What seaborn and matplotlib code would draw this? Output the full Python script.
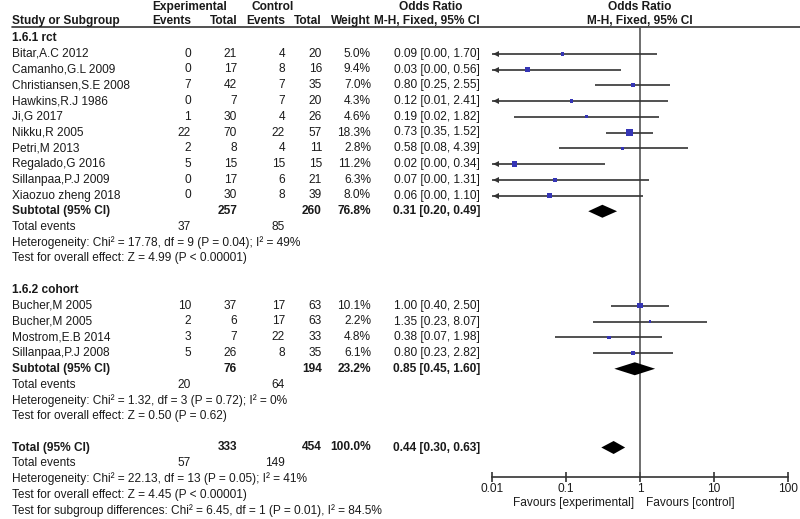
import numpy as np
import pandas as pd
import seaborn as sns
import matplotlib
matplotlib.use("Agg")
import matplotlib.pyplot as plt

# ================================
# Data
# ================================

studies_rct = ["Bitar,A.C 2012", "Camanho,G.L 2009", "Christiansen,S.E 2008",
               "Hawkins,R.J 1986", "Ji,G 2017", "Nikku,R 2005", "Petri,M 2013",
               "Regalado,G 2016", "Sillanpaa,P.J 2009", "Xiaozuo zheng 2018"]
exp_events_rct = [0, 0, 7, 0, 1, 22, 2, 5, 0, 0]
exp_total_rct = [21, 17, 42, 7, 30, 70, 8, 15, 17, 30]
ctl_events_rct = [4, 8, 7, 7, 4, 22, 4, 15, 6, 8]
ctl_total_rct = [20, 16, 35, 20, 26, 57, 11, 15, 21, 39]
weight_rct = [5.0, 9.4, 7.0, 4.3, 4.6, 18.3, 2.8, 11.2, 6.3, 8.0]
or_rct = [0.09, 0.03, 0.80, 0.12, 0.19, 0.73, 0.58, 0.02, 0.07, 0.06]
lo_rct = [0.00, 0.00, 0.25, 0.01, 0.02, 0.35, 0.08, 0.00, 0.00, 0.00]
hi_rct = [1.70, 0.56, 2.55, 2.41, 1.82, 1.52, 4.39, 0.34, 1.31, 1.10]

studies_coh = ["Bucher,M 2005", "Bucher,M 2005", "Mostrom,E.B 2014", "Sillanpaa,P.J 2008"]
exp_events_coh = [10, 2, 3, 5]
exp_total_coh = [37, 6, 7, 26]
ctl_events_coh = [17, 17, 22, 8]
ctl_total_coh = [63, 63, 33, 35]
weight_coh = [10.1, 2.2, 4.8, 6.1]
or_coh = [1.00, 1.35, 0.38, 0.80]
lo_coh = [0.40, 0.23, 0.07, 0.23]
hi_coh = [2.50, 8.07, 1.98, 2.82]

# pooled: exp total, ctl total, weight, OR, lo, hi, exp events, ctl events
sub_rct = [257, 260, 76.8, 0.31, 0.20, 0.49, 37, 85]
sub_coh = [76, 194, 23.2, 0.85, 0.45, 1.60, 20, 64]
overall = [333, 454, 100.0, 0.44, 0.30, 0.63, 57, 149]

het_rct = "Heterogeneity: Chi² = 17.78, df = 9 (P = 0.04); I² = 49%"
z_rct = "Test for overall effect: Z = 4.99 (P < 0.00001)"
het_coh = "Heterogeneity: Chi² = 1.32, df = 3 (P = 0.72); I² = 0%"
z_coh = "Test for overall effect: Z = 0.50 (P = 0.62)"
het_all = "Heterogeneity: Chi² = 22.13, df = 13 (P = 0.05); I² = 41%"
z_all = "Test for overall effect: Z = 4.45 (P < 0.00001)"
sub_diff = "Test for subgroup differences: Chi² = 6.45, df = 1 (P = 0.01), I² = 84.5%"

ticks = [0.01, 0.1, 1, 10, 100]
tick_labels = ["0.01", "0.1", "1", "10", "100"]

# ================================
# Layout
# ================================

sns.set_theme(style="white")
plt.rcParams["font.family"] = ["Liberation Sans", "DejaVu Sans"]

FS = 8.6
TXT = "#1a1a1a"
LINE = "#333333"
BLUE = "#3535b5"


def row_y(k):
    return 38 + 15.75 * k


X_NAME, X_EE, X_ET, X_CE, X_CT, X_W, X_OR = 12, 191, 237, 285, 322, 371, 480

fig = plt.figure(figsize=(8, 5.19), dpi=100)
ax = fig.add_axes([0, 0, 1, 1])
ax.set_xlim(0, 800)
ax.set_ylim(519, 0)
ax.axis("off")

fax = fig.add_axes([492 / 800, 0, 296 / 800, 1])
fax.set_xscale("log")
fax.set_xlim(0.01, 100)
fax.set_ylim(519, 0)
fax.patch.set_visible(False)


def put(x, y, s, ha="right", bold=False):
    ax.text(x, y, s, ha=ha, va="center", fontsize=FS, color=TXT,
            fontweight="bold" if bold else "normal")


# header
put(190, 7, "Experimental", ha="center", bold=True)
put(273, 7, "Control", ha="center", bold=True)
put(431, 7, "Odds Ratio", ha="center", bold=True)
put(X_NAME, 21, "Study or Subgroup", ha="left", bold=True)
for x, s in [(X_EE, "Events"), (X_ET, "Total"), (X_CE, "Events"), (X_CT, "Total"), (X_W, "Weight"),
             (X_OR, "M-H, Fixed, 95% CI")]:
    put(x, 21, s, bold=True)
fax.text(1, 7, "Odds Ratio", ha="center", va="center", fontsize=FS, color=TXT, fontweight="bold")
fax.text(1, 21, "M-H, Fixed, 95% CI", ha="center", va="center", fontsize=FS, color=TXT, fontweight="bold")
ax.plot([12, 800], [27, 27], color=LINE, lw=1.2)

# ================================
# Groups
# ================================

groups = [
    ("1.6.1 rct", 0, studies_rct, exp_events_rct, exp_total_rct, ctl_events_rct, ctl_total_rct,
     weight_rct, or_rct, lo_rct, hi_rct, sub_rct, het_rct, z_rct),
    ("1.6.2 cohort", 16, studies_coh, exp_events_coh, exp_total_coh, ctl_events_coh, ctl_total_coh,
     weight_coh, or_coh, lo_coh, hi_coh, sub_coh, het_coh, z_coh),
]

frames = []


def diamond(est, lo, hi, y, h=6):
    fax.fill([lo, est, hi, est], [y, y - h, y, y + h], color="black", lw=0, zorder=3)


for title, k0, names, ee, et, ce, ct, w, orv, lo, hi, sub, het, zt in groups:
    put(X_NAME, row_y(k0), title, ha="left", bold=True)
    for i in range(len(names)):
        y = row_y(k0 + 1 + i)
        put(X_NAME, y, names[i], ha="left")
        put(X_EE, y, str(ee[i]))
        put(X_ET, y, str(et[i]))
        put(X_CE, y, str(ce[i]))
        put(X_CT, y, str(ct[i]))
        put(X_W, y, "%.1f%%" % w[i])
        put(X_OR, y, "%.2f [%.2f, %.2f]" % (orv[i], lo[i], hi[i]))
        left = max(lo[i], 0.01)
        fax.hlines(y, left, hi[i], color=LINE, lw=1.2)
        if lo[i] <= 0.01:
            fax.plot(0.0112, y, marker="<", ms=5, color=LINE, mec=LINE, mew=0)
    frames.append(pd.DataFrame({"or": orv, "weight": w,
                                "y": [row_y(k0 + 1 + i) for i in range(len(names))]}))

    n = len(names)
    y = row_y(k0 + 1 + n)
    put(X_NAME, y, "Subtotal (95% CI)", ha="left", bold=True)
    put(X_ET, y, str(sub[0]), bold=True)
    put(X_CT, y, str(sub[1]), bold=True)
    put(X_W, y, "%.1f%%" % sub[2], bold=True)
    put(X_OR, y, "%.2f [%.2f, %.2f]" % (sub[3], sub[4], sub[5]), bold=True)
    diamond(sub[3], sub[4], sub[5], y, h=6.5)
    y = row_y(k0 + 2 + n)
    put(X_NAME, y, "Total events", ha="left")
    put(X_EE, y, str(sub[6]))
    put(X_CE, y, str(sub[7]))
    put(X_NAME, row_y(k0 + 3 + n), het, ha="left")
    put(X_NAME, row_y(k0 + 4 + n), zt, ha="left")

df = pd.concat(frames, ignore_index=True)
sns.scatterplot(data=df, x="or", y="y", size="weight", sizes=(2.5, 26), size_norm=(2.2, 18.3),
                marker="s", color=BLUE, linewidth=0, legend=False, ax=fax, zorder=5)

# overall
y = row_y(26)
put(X_NAME, y, "Total (95% CI)", ha="left", bold=True)
put(X_ET, y, str(overall[0]), bold=True)
put(X_CT, y, str(overall[1]), bold=True)
put(X_W, y, "%.1f%%" % overall[2], bold=True)
put(X_OR, y, "%.2f [%.2f, %.2f]" % (overall[3], overall[4], overall[5]), bold=True)
diamond(overall[3], overall[4], overall[5], y, h=6.5)
y = row_y(27)
put(X_NAME, y, "Total events", ha="left")
put(X_EE, y, str(overall[6]))
put(X_CE, y, str(overall[7]))
put(X_NAME, row_y(28), het_all, ha="left")
put(X_NAME, row_y(29), z_all, ha="left")
put(X_NAME, row_y(30), sub_diff, ha="left")

# ================================
# Forest axis
# ================================

fax.vlines(1, 27, 477, color="#555555", lw=1.2, zorder=1)
for s in ["top", "left", "right"]:
    fax.spines[s].set_visible(False)
fax.spines["bottom"].set_position(("data", 477))
fax.spines["bottom"].set_color(LINE)
fax.spines["bottom"].set_linewidth(1.2)
fax.xaxis.set_minor_locator(matplotlib.ticker.NullLocator())
fax.set_xticks(ticks)
fax.set_xticklabels(tick_labels)
fax.tick_params(axis="x", direction="inout", length=7, width=1.2, color=LINE,
                labelsize=FS, labelcolor=TXT, pad=1, bottom=True)
fax.set_yticks([])
fax.set_xlabel("")
fax.set_ylabel("")
fax.grid(False)
for lab in fax.get_xticklabels():
    lab.set_clip_on(False)

put(634, 503, "Favours [experimental]")
put(646, 503, "Favours [control]", ha="left")

fig.savefig("out.png", dpi=100)
